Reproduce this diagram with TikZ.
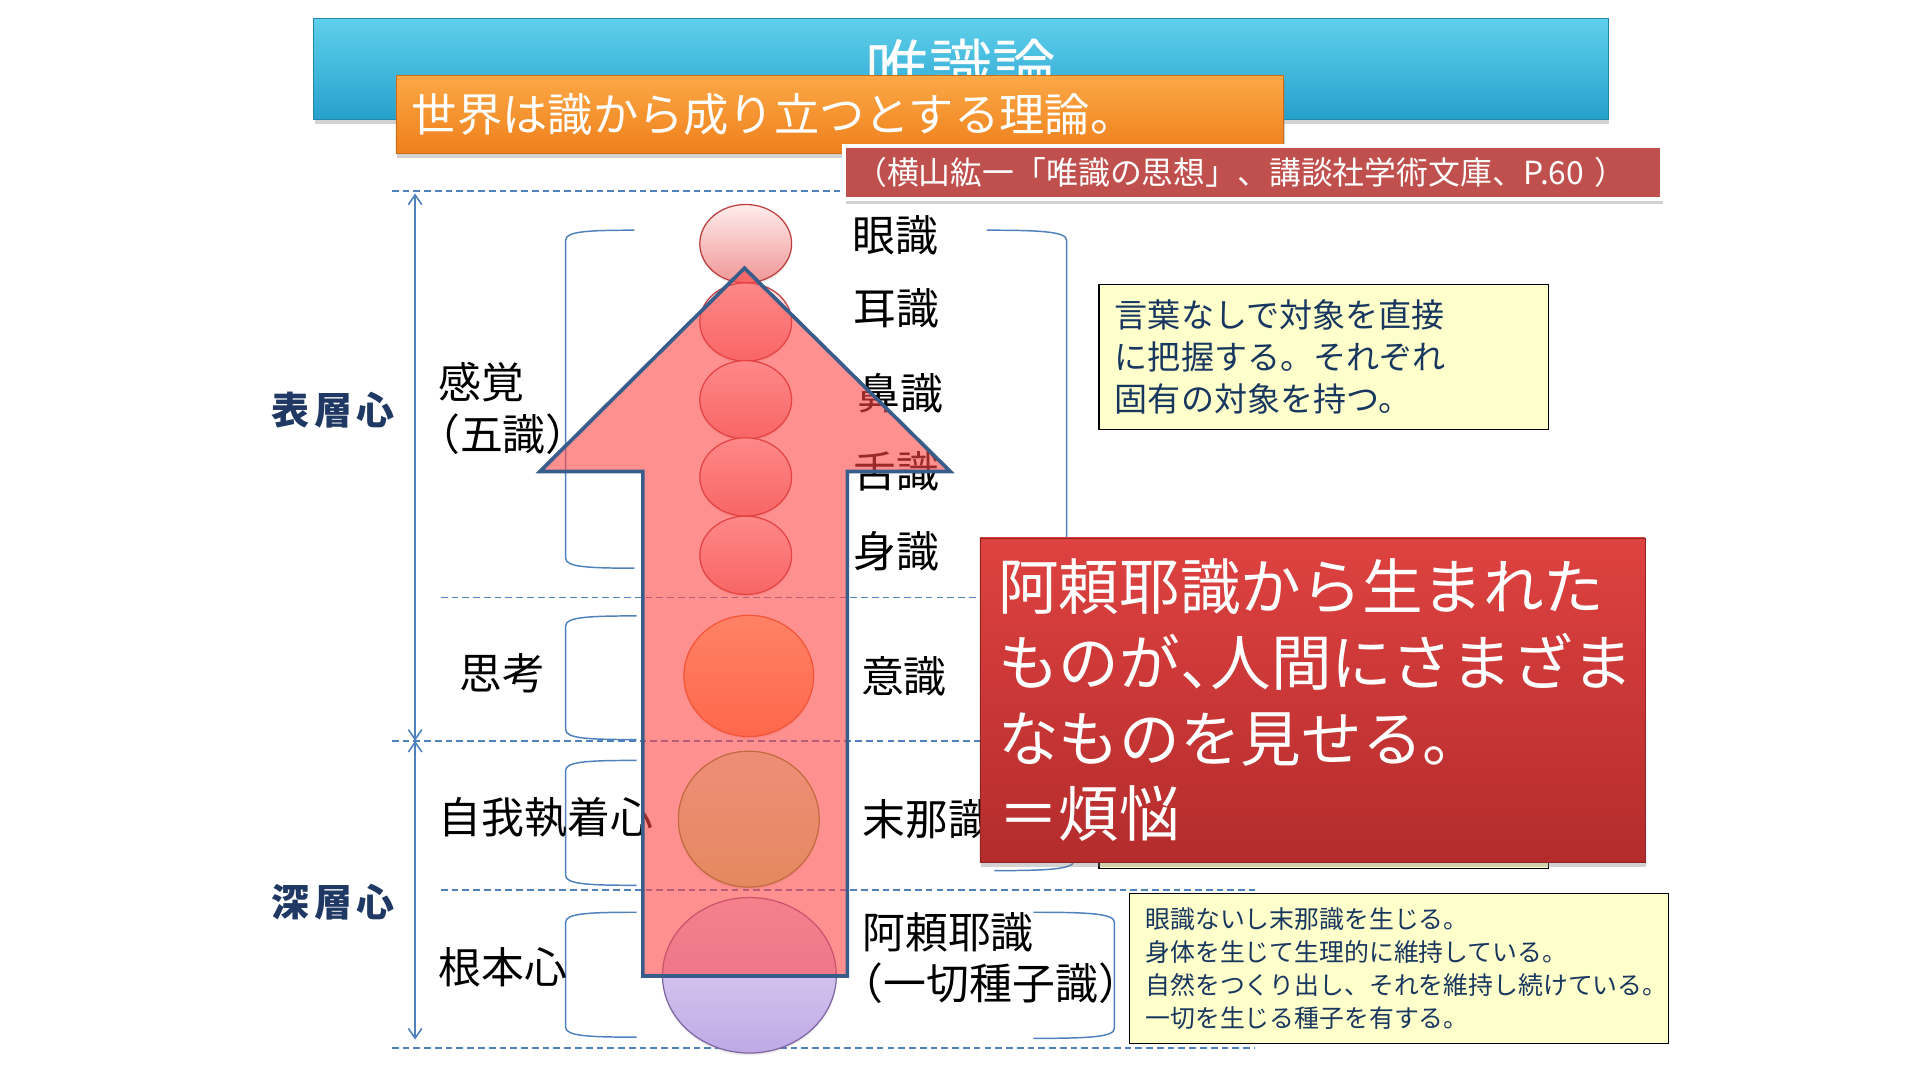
\documentclass[tikz,border=0pt]{standalone}
\usepackage{fontspec}
\setmainfont{Noto Sans CJK JP}
\usetikzlibrary{shapes.geometric,arrows.meta,shadows}
\definecolor{navyt}{RGB}{31,56,100}
\definecolor{txtnavy}{RGB}{23,55,94}
\definecolor{lineblue}{RGB}{79,129,189}
\definecolor{arrowline}{RGB}{56,93,138}
\definecolor{arrowfill}{RGB}{255,70,70}
\definecolor{titletop}{RGB}{95,208,236}
\definecolor{titlebot}{RGB}{38,160,204}
\definecolor{orangetop}{RGB}{252,168,70}
\definecolor{orangebot}{RGB}{238,128,28}
\definecolor{citered}{RGB}{192,80,77}
\definecolor{redtop}{RGB}{222,66,64}
\definecolor{redbot}{RGB}{180,44,44}
\definecolor{notefill}{RGB}{255,255,204}
\definecolor{pinktop}{RGB}{255,236,236}
\definecolor{pinkbot}{RGB}{240,150,150}
\definecolor{pinkline}{RGB}{190,60,60}
\definecolor{orgtop}{RGB}{255,220,150}
\definecolor{orgbot}{RGB}{255,155,85}
\definecolor{orgline}{RGB}{228,108,30}
\definecolor{grntop}{RGB}{215,250,195}
\definecolor{grnbot}{RGB}{190,238,135}
\definecolor{grnline}{RGB}{100,160,50}
\definecolor{lavtop}{RGB}{232,218,246}
\definecolor{lavbot}{RGB}{190,170,230}
\definecolor{lavline}{RGB}{128,100,162}
\begin{document}
\begin{tikzpicture}[x=1pt,y=-1pt,
  dashline/.style={draw=lineblue, line width=1.3pt, dash pattern=on 5.5pt off 3.3pt},
  brk/.style={draw=lineblue, line width=1.2pt},
  vline/.style={draw=lineblue, line width=1.3pt, >={Straight Barb[length=8pt,width=11pt]}, <->},
  lbl/.style={font=\fontsize{35}{40}\selectfont, inner sep=0pt, anchor=west, text=black},
  layertext/.style={font=\fontsize{31}{36}\selectfont\bfseries, text=navyt, inner sep=0pt},
  softshadow/.style={drop shadow={opacity=0.15, shadow xshift=0pt, shadow yshift=-2pt}},
  boxshadow/.style={drop shadow={opacity=0.35, shadow xshift=1pt, shadow yshift=-4pt}},
  circ/.style={ellipse, line width=1pt, inner sep=0pt, softshadow},
  sense/.style={circ, draw=pinkline, top color=pinktop, bottom color=pinkbot, minimum width=75pt, minimum height=64pt},
  bigarrow/.style={fill=arrowfill, fill opacity=0.6, draw=arrowline, line width=3pt, line join=miter},
  note/.style={rectangle, draw=black, line width=1pt, fill=notefill, text=txtnavy, anchor=north west, align=left, inner ysep=0pt},
  titlebar/.style={rectangle, top color=titletop, bottom color=titlebot, draw=titlebot!85!black, line width=0.6pt, text=white, font=\fontsize{52}{60}\selectfont, inner sep=0pt, boxshadow},
  orangebar/.style={rectangle, top color=orangetop, bottom color=orangebot, draw=orangebot!85!black, line width=0.6pt, text=white, font=\fontsize{37}{42}\selectfont, inner ysep=0pt, boxshadow},
  citebox/.style={rectangle, fill=citered, draw=white, line width=3pt, text=white, font=\fontsize{26}{32}\selectfont, inner ysep=0pt, boxshadow},
  redbox/.style={rectangle, top color=redtop, bottom color=redbot, draw=redbot!80!black, line width=0.6pt, text=white, font=\fontsize{49.5}{62}\selectfont, inner ysep=0pt, boxshadow}
]
\useasboundingbox (0,0) rectangle (1568,882);
\fill[white] (0,0) rectangle (1568,882);

% title and subtitle
\node[titlebar, minimum width=1057pt, minimum height=82pt, anchor=north west] (title) at (256,15) {唯識論};
\node[orangebar, minimum width=725pt, minimum height=64pt, anchor=north west, text width=699pt, inner xsep=13pt, align=left] (sub) at (323,61) {世界は識から成り立つとする理論。};

% dashed level lines
\draw[dashline] (320,156) -- (700,156);
\draw[dashline] (360,488) -- (800,488);
\draw[dashline] (320,605) -- (800,605);
\draw[dashline] (360,727) -- (1025,727);
\draw[dashline] (320,856) -- (1025,856);

% vertical range arrows
\coordinate (vTop) at (339,158);
\coordinate (vMid) at (339,605);
\coordinate (vBot) at (339,849);
\draw[vline] (vTop) -- (vMid);
\draw[vline] (vMid) -- (vBot);

\node[layertext] (surf) at (272,335) {表\hspace{4pt}層\hspace{4pt}心};
\node[layertext] (deep) at (272,737) {深\hspace{4pt}層\hspace{4pt}心};

% left brackets
\draw[brk] (518,188) .. controls (480,188) and (462,189) .. (462,196) -- (462,456) .. controls (462,463) and (480,464) .. (518,464);
\draw[brk] (520,503) .. controls (480,503) and (462,504) .. (462,511) -- (462,596) .. controls (462,603) and (480,604) .. (520,604);
\draw[brk] (520,621) .. controls (480,621) and (462,622) .. (462,629) -- (462,715) .. controls (462,722) and (480,723) .. (520,723);
\draw[brk] (520,745) .. controls (480,745) and (462,746) .. (462,753) -- (462,839) .. controls (462,846) and (480,847) .. (520,847);
% right brackets
\draw[brk] (806,188) .. controls (848,188) and (871,189) .. (871,196) -- (871,456) .. controls (871,463) and (848,464) .. (806,464);
\draw[brk] (806,503) .. controls (848,503) and (871,504) .. (871,511) -- (871,596) .. controls (871,603) and (848,604) .. (806,604);
\draw[brk] (812,617) .. controls (855,617) and (877,618) .. (877,625) -- (877,703) .. controls (877,710) and (855,711) .. (812,711);
\draw[brk] (844,745) .. controls (888,745) and (910,746) .. (910,753) -- (910,840) .. controls (910,847) and (888,848) .. (844,848);

% left labels
\node[lbl] (kankaku) at (358,312) {感覚};
\node[lbl] (goshiki) at (358,355) {\makebox[0.5em][r]{（}五識\makebox[0.5em][l]{）}};
\node[lbl] (shikou) at (375,550) {思考};
\node[lbl] (jiga) at (358,668) {自我執着心};
\node[lbl] (konpon) at (358,790) {根本心};

% right labels
\node[lbl] (gen) at (696,192) {眼識};
\node[lbl] (ni) at (697,252) {耳識};
\node[lbl] (bi) at (700,321) {鼻識};
\node[lbl] (zetsu) at (697,385) {舌識};
\node[lbl] (shin) at (697,450) {身識};
\node[lbl] (ishiki) at (703,552) {意識};
\node[lbl] (mana) at (704,669) {末那識};
\node[lbl] (araya) at (704,761) {阿頼耶識};
\node[lbl] (issai) at (704,803) {\makebox[0.5em][r]{（}一切種子識\makebox[0.5em][l]{）}};

% circles
\node[sense] (c1) at (609,199) {};
\node[sense] (c2) at (609,263) {};
\node[sense] (c3) at (609,326.5) {};
\node[sense] (c4) at (609,389.5) {};
\node[sense] (c5) at (609,453.5) {};
\node[circ, draw=orgline, top color=orgtop, bottom color=orgbot, minimum width=106pt, minimum height=99pt] (c6) at (611.5,552) {};
\node[circ, draw=grnline, top color=grntop, bottom color=grnbot, minimum width=115pt, minimum height=111pt] (c7) at (611.5,669) {};
\node[circ, draw=lavline, top color=lavtop, bottom color=lavbot, minimum width=142pt, minimum height=127pt] (c8) at (612,796.5) {};

% big upward arrow
\draw[bigarrow] (608,219) -- (776,385) -- (692,385) -- (692,797) -- (525,797) -- (525,385) -- (441,385) -- cycle;

% note boxes
\node[note, minimum width=367pt, minimum height=118pt, text width=341pt, inner xsep=13pt, font=\fontsize{27}{34}\selectfont] (note1) at (897,232) {言葉なしで対象を直接\\に把握する。それぞれ\\固有の対象を持つ。};
\node[note, minimum width=367pt, minimum height=150pt] (note2) at (897,559) {};
\node[note, minimum width=440pt, minimum height=123pt, text width=414pt, inner xsep=13pt, font=\fontsize{20.3}{27}\selectfont] (note3) at (922,729) {眼識ないし末那識を生じる。\\身体を生じて生理的に維持している。\\\mbox{自然をつくり出し、それを維持し続けている。}\\一切を生じる種子を有する。};

% big red box
\node[redbox, minimum width=543pt, minimum height=265pt, anchor=north west, text width=513pt, inner xsep=15pt, align=left] (klesha) at (800,439) {阿頼耶識から生まれた\\ものが\makebox[0.5em][l]{、}人間にさまざま\\なものを見せる。\\＝煩悩};

% citation
\node[citebox, minimum width=668pt, minimum height=43pt, anchor=north west, text width=650pt, inner xsep=9pt, align=left] (cite) at (688,118) {\mbox{（横山紘一「唯識の思想」、講談社学術文庫、P.60 ）}};
\end{tikzpicture}
\end{document}
